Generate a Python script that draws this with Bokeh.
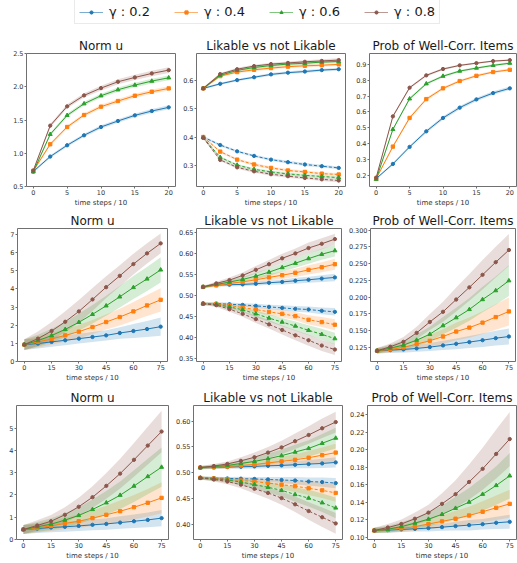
from bokeh.plotting import figure
from bokeh.models import Range1d, FixedTicker, PrintfTickFormatter, Legend, LegendItem
from bokeh.layouts import column, row
from bokeh.embed import file_html
from bokeh.resources import INLINE

# ---------------- data ----------------
GAMMAS = ["0.2", "0.4", "0.6", "0.8"]
COLORS = ["#1f77b4", "#ff7f0e", "#2ca02c", "#8c564b"]
MARKERS = ["circle", "square", "triangle", "circle"]

steps_r1 = [0, 2.5, 5, 7.5, 10, 12.5, 15, 17.5, 20]
steps_r23 = [0, 7.5, 15, 22.5, 30, 37.5, 45, 52.5, 60, 67.5, 75]

TITLES = ["Norm u", "Likable vs not Likable", "Prob of Well-Corr. Items"]
XLABEL = "time steps / 10"

# row 1
r1_norm = [
    [0.725, 0.95, 1.12, 1.27, 1.395, 1.485, 1.57, 1.635, 1.69],
    [0.735, 1.135, 1.395, 1.575, 1.70, 1.785, 1.865, 1.925, 1.975],
    [0.72, 1.285, 1.57, 1.745, 1.865, 1.955, 2.025, 2.085, 2.135],
    [0.74, 1.415, 1.705, 1.87, 1.98, 2.075, 2.14, 2.2, 2.25],
]
r1_norm_sd = [
    [0.02, 0.02, 0.022, 0.024, 0.026, 0.027, 0.028, 0.029, 0.03],
    [0.02, 0.022, 0.024, 0.026, 0.028, 0.03, 0.031, 0.032, 0.033],
    [0.02, 0.024, 0.026, 0.028, 0.03, 0.032, 0.034, 0.035, 0.036],
    [0.02, 0.026, 0.03, 0.032, 0.035, 0.037, 0.04, 0.042, 0.045],
]
r1_like_hi = [
    [0.571, 0.587, 0.600, 0.610, 0.620, 0.626, 0.630, 0.635, 0.638],
    [0.571, 0.614, 0.628, 0.636, 0.642, 0.647, 0.650, 0.652, 0.655],
    [0.571, 0.617, 0.634, 0.644, 0.651, 0.656, 0.659, 0.663, 0.665],
    [0.571, 0.621, 0.638, 0.649, 0.656, 0.660, 0.664, 0.667, 0.670],
]
r1_like_lo = [
    [0.401, 0.373, 0.351, 0.335, 0.322, 0.313, 0.305, 0.299, 0.293],
    [0.401, 0.350, 0.322, 0.305, 0.293, 0.284, 0.279, 0.273, 0.270],
    [0.399, 0.330, 0.303, 0.288, 0.279, 0.272, 0.267, 0.263, 0.259],
    [0.398, 0.321, 0.295, 0.281, 0.271, 0.264, 0.258, 0.253, 0.249],
]
r1_like_sd = [
    [0.004, 0.004, 0.004, 0.004, 0.005, 0.005, 0.005, 0.005, 0.005],
    [0.004, 0.004, 0.004, 0.005, 0.005, 0.005, 0.005, 0.005, 0.005],
    [0.004, 0.004, 0.004, 0.005, 0.005, 0.005, 0.005, 0.005, 0.005],
    [0.004, 0.004, 0.005, 0.005, 0.005, 0.005, 0.005, 0.006, 0.006],
]
r1_prob = [
    [0.179, 0.2715, 0.379, 0.4775, 0.562, 0.627, 0.679, 0.719, 0.749],
    [0.179, 0.381, 0.562, 0.681, 0.749, 0.795, 0.828, 0.852, 0.866],
    [0.175, 0.490, 0.683, 0.778, 0.826, 0.858, 0.877, 0.894, 0.908],
    [0.185, 0.572, 0.753, 0.831, 0.871, 0.894, 0.908, 0.921, 0.927],
]
r1_prob_sd = [
    [0.006, 0.008, 0.009, 0.010, 0.011, 0.011, 0.011, 0.011, 0.011],
    [0.006, 0.009, 0.010, 0.010, 0.009, 0.009, 0.008, 0.008, 0.008],
    [0.006, 0.009, 0.009, 0.008, 0.008, 0.007, 0.007, 0.007, 0.007],
    [0.006, 0.009, 0.008, 0.007, 0.007, 0.006, 0.006, 0.006, 0.006],
]

# row 2
r2_norm = [
    [0.93, 0.99, 1.08, 1.17, 1.26, 1.35, 1.44, 1.57, 1.68, 1.79, 1.92],
    [0.93, 1.08, 1.24, 1.44, 1.645, 1.90, 2.175, 2.45, 2.76, 3.09, 3.40],
    [0.93, 1.15, 1.43, 1.77, 2.16, 2.60, 3.07, 3.565, 4.08, 4.55, 5.05],
    [0.93, 1.26, 1.68, 2.19, 2.76, 3.42, 4.095, 4.72, 5.37, 5.96, 6.51],
]
r2_norm_sd = [
    [0.30, 0.28, 0.27, 0.27, 0.27, 0.27, 0.28, 0.32, 0.38, 0.44, 0.50],
    [0.30, 0.31, 0.32, 0.34, 0.37, 0.39, 0.41, 0.46, 0.52, 0.58, 0.64],
    [0.30, 0.33, 0.37, 0.42, 0.47, 0.51, 0.55, 0.59, 0.63, 0.66, 0.69],
    [0.30, 0.40, 0.50, 0.58, 0.63, 0.63, 0.60, 0.58, 0.57, 0.56, 0.55],
]
r2_like_hi = [
    [0.520, 0.5245, 0.5253, 0.526, 0.5276, 0.530, 0.532, 0.5348, 0.5371, 0.540, 0.5427],
    [0.520, 0.5237, 0.5285, 0.532, 0.537, 0.5427, 0.548, 0.5537, 0.5608, 0.567, 0.5742],
    [0.520, 0.526, 0.5316, 0.538, 0.5458, 0.5553, 0.5663, 0.5766, 0.5876, 0.598, 0.6066],
    [0.520, 0.5285, 0.5363, 0.5474, 0.5608, 0.5742, 0.5884, 0.600, 0.6129, 0.623, 0.6342],
]
r2_like_lo = [
    [0.480, 0.4803, 0.4787, 0.4771, 0.4748, 0.4724, 0.470, 0.4677, 0.4661, 0.463, 0.4606],
    [0.480, 0.4795, 0.4756, 0.4708, 0.4661, 0.4606, 0.4558, 0.4503, 0.4416, 0.4361, 0.4298],
    [0.480, 0.478, 0.4724, 0.4653, 0.4558, 0.4456, 0.4361, 0.4266, 0.4164, 0.4069, 0.3966],
    [0.480, 0.4764, 0.4669, 0.4558, 0.4432, 0.4306, 0.4172, 0.4045, 0.3927, 0.3801, 0.3706],
]
r2_like_sd = [
    [0.003, 0.003, 0.004, 0.004, 0.005, 0.005, 0.006, 0.007, 0.007, 0.008, 0.009],
    [0.003, 0.004, 0.005, 0.006, 0.007, 0.008, 0.009, 0.010, 0.011, 0.012, 0.013],
    [0.003, 0.004, 0.005, 0.006, 0.008, 0.009, 0.010, 0.011, 0.012, 0.013, 0.014],
    [0.003, 0.004, 0.006, 0.007, 0.009, 0.010, 0.011, 0.012, 0.013, 0.013, 0.013],
]
r2_prob = [
    [0.120, 0.121, 0.122, 0.1235, 0.1255, 0.128, 0.1304, 0.133, 0.1358, 0.1388, 0.1413],
    [0.120, 0.122, 0.125, 0.130, 0.1349, 0.1413, 0.1487, 0.1546, 0.162, 0.1703, 0.1787],
    [0.120, 0.124, 0.1285, 0.1358, 0.1447, 0.1575, 0.1694, 0.1817, 0.1965, 0.2098, 0.2246],
    [0.120, 0.126, 0.1334, 0.1467, 0.163, 0.1782, 0.1965, 0.2147, 0.2334, 0.2522, 0.2704],
]
r2_prob_sd = [
    [0.004, 0.004, 0.005, 0.005, 0.006, 0.007, 0.008, 0.009, 0.010, 0.011, 0.012],
    [0.004, 0.005, 0.006, 0.007, 0.009, 0.011, 0.013, 0.015, 0.017, 0.019, 0.021],
    [0.004, 0.005, 0.007, 0.009, 0.011, 0.013, 0.015, 0.017, 0.019, 0.021, 0.023],
    [0.004, 0.005, 0.007, 0.009, 0.012, 0.015, 0.018, 0.020, 0.022, 0.023, 0.024],
]

# row 3
r3_norm = [
    [0.45, 0.49, 0.54, 0.57, 0.61, 0.66, 0.70, 0.76, 0.82, 0.88, 0.96],
    [0.45, 0.52, 0.61, 0.72, 0.82, 0.96, 1.11, 1.27, 1.45, 1.65, 1.87],
    [0.45, 0.57, 0.69, 0.87, 1.08, 1.35, 1.65, 1.99, 2.40, 2.83, 3.25],
    [0.45, 0.63, 0.82, 1.11, 1.47, 1.90, 2.41, 2.96, 3.58, 4.22, 4.85],
]
r3_norm_sd = [
    [0.20, 0.20, 0.21, 0.22, 0.23, 0.24, 0.26, 0.28, 0.30, 0.33, 0.37],
    [0.20, 0.21, 0.23, 0.26, 0.30, 0.35, 0.41, 0.48, 0.55, 0.62, 0.70],
    [0.20, 0.22, 0.26, 0.31, 0.37, 0.45, 0.53, 0.62, 0.71, 0.80, 0.88],
    [0.20, 0.23, 0.28, 0.34, 0.41, 0.49, 0.58, 0.67, 0.76, 0.85, 0.93],
]
r3_like_hi = [
    [0.510, 0.5103, 0.511, 0.5116, 0.5123, 0.5135, 0.5142, 0.5155, 0.5168, 0.518, 0.520],
    [0.510, 0.5105, 0.512, 0.514, 0.516, 0.519, 0.522, 0.525, 0.529, 0.534, 0.539],
    [0.510, 0.512, 0.514, 0.518, 0.522, 0.527, 0.533, 0.540, 0.547, 0.557, 0.567],
    [0.510, 0.513, 0.517, 0.523, 0.530, 0.539, 0.549, 0.561, 0.573, 0.586, 0.598],
]
r3_like_lo = [
    [0.490, 0.4895, 0.489, 0.4885, 0.488, 0.487, 0.486, 0.485, 0.483, 0.482, 0.480],
    [0.490, 0.489, 0.4875, 0.485, 0.483, 0.480, 0.477, 0.474, 0.470, 0.466, 0.461],
    [0.490, 0.488, 0.486, 0.482, 0.477, 0.472, 0.466, 0.458, 0.451, 0.442, 0.432],
    [0.490, 0.487, 0.483, 0.477, 0.469, 0.461, 0.451, 0.439, 0.426, 0.414, 0.402],
]
r3_like_sd = [
    [0.003, 0.003, 0.003, 0.004, 0.004, 0.005, 0.006, 0.007, 0.008, 0.009, 0.010],
    [0.003, 0.003, 0.004, 0.005, 0.006, 0.007, 0.009, 0.011, 0.013, 0.015, 0.017],
    [0.003, 0.004, 0.005, 0.006, 0.008, 0.010, 0.012, 0.014, 0.016, 0.018, 0.020],
    [0.003, 0.004, 0.005, 0.007, 0.009, 0.011, 0.013, 0.015, 0.017, 0.019, 0.020],
]
r3_prob = [
    [0.1076, 0.108, 0.1088, 0.1095, 0.1103, 0.1114, 0.1126, 0.1137, 0.1148, 0.1164, 0.1175],
    [0.1076, 0.1084, 0.110, 0.112, 0.115, 0.118, 0.121, 0.1247, 0.129, 0.1335, 0.138],
    [0.1076, 0.109, 0.112, 0.116, 0.1205, 0.126, 0.133, 0.140, 0.149, 0.159, 0.170],
    [0.1076, 0.111, 0.115, 0.121, 0.128, 0.138, 0.149, 0.163, 0.178, 0.195, 0.212],
]
r3_prob_sd = [
    [0.003, 0.003, 0.003, 0.003, 0.004, 0.004, 0.005, 0.006, 0.006, 0.007, 0.008],
    [0.003, 0.003, 0.004, 0.005, 0.006, 0.007, 0.009, 0.010, 0.012, 0.014, 0.016],
    [0.003, 0.004, 0.005, 0.006, 0.008, 0.010, 0.013, 0.016, 0.019, 0.022, 0.026],
    [0.003, 0.004, 0.005, 0.007, 0.009, 0.012, 0.016, 0.020, 0.024, 0.028, 0.031],
]

# axes: ticks and ranges
xticks_r1 = [0, 5, 10, 15, 20]
xticks_r23 = [0, 15, 30, 45, 60, 75]
xrange_r1 = (-1, 21)
xrange_r23 = (-3.75, 78.75)

yticks = {
    "r1_norm": [0.5, 1.0, 1.5, 2.0, 2.5],
    "r1_like": [0.3, 0.4, 0.5, 0.6],
    "r1_prob": [0.2, 0.3, 0.4, 0.5, 0.6, 0.7, 0.8, 0.9],
    "r2_norm": [0, 1, 2, 3, 4, 5, 6, 7],
    "r2_like": [0.35, 0.40, 0.45, 0.50, 0.55, 0.60, 0.65],
    "r2_prob": [0.125, 0.150, 0.175, 0.200, 0.225, 0.250, 0.275, 0.300],
    "r3_norm": [0, 1, 2, 3, 4, 5],
    "r3_like": [0.40, 0.45, 0.50, 0.55, 0.60],
    "r3_prob": [0.10, 0.12, 0.14, 0.16, 0.18, 0.20, 0.22, 0.24],
}
yfmt = {
    "r1_norm": "%.1f", "r1_like": "%.1f", "r1_prob": "%.1f",
    "r2_norm": "%d", "r2_like": "%.2f", "r2_prob": "%.3f",
    "r3_norm": "%d", "r3_like": "%.2f", "r3_prob": "%.2f",
}
yranges = {
    "r1_norm": (0.5, 2.5), "r1_like": (0.228, 0.693), "r1_prob": (0.129, 0.969),
    "r2_norm": (0.0, 7.33), "r2_like": (0.342, 0.6595), "r2_prob": (0.104, 0.3025),
    "r3_norm": (0.0, 6.02), "r3_like": (0.371, 0.630), "r3_prob": (0.0973, 0.2503),
}

# ---------------- layout (pixels) ----------------
FONT = "DejaVu Sans"
ROWS = [
    dict(widths=[180, 170, 167], left=[26, 15, 19], right=[5, 5, 1], top=25, bottom=22, height=181),
    dict(widths=[172, 173, 172], left=[17, 24, 24], right=[5, 4, 2], top=19, bottom=22, height=175),
    dict(widths=[172, 174, 171], left=[16, 21, 21], right=[4, 4, 1], top=21, bottom=23, height=178),
]


def make_fig(key, title, xr, xt, r, c):
    spec = ROWS[r]
    p = figure(width=spec["widths"][c], height=spec["height"],
               x_range=Range1d(*xr), y_range=Range1d(*yranges[key]),
               min_border_left=spec["left"][c], min_border_right=spec["right"][c],
               min_border_top=spec["top"], min_border_bottom=spec["bottom"],
               output_backend="svg", toolbar_location=None, tools="",
               title=title)
    p.title.align = "center"
    p.title.text_font = FONT
    p.title.text_font_size = "12px"
    p.title.text_font_style = "normal"
    p.title.text_color = "#1a1a1a"
    p.title.standoff = 1
    p.title.offset = 0
    p.xgrid.visible = False
    p.ygrid.visible = False
    p.outline_line_color = "#707070"
    p.outline_line_width = 1
    p.outline_line_alpha = 1
    p.background_fill_color = "white"
    p.border_fill_color = "white"
    for ax in (p.xaxis[0], p.yaxis[0]):
        ax.axis_line_color = None
        ax.major_tick_out = 2
        ax.major_tick_in = 0
        ax.minor_tick_out = 0
        ax.minor_tick_in = 0
        ax.major_tick_line_color = "#707070"
        ax.major_label_text_font = FONT
        ax.major_label_text_font_size = "6.5px"
        ax.major_label_text_color = "#333333"
        ax.major_label_standoff = 1
    p.xaxis.ticker = FixedTicker(ticks=xt)
    p.xaxis.formatter = PrintfTickFormatter(format="%d")
    p.xaxis.axis_label = XLABEL
    p.xaxis.axis_label_text_font = FONT
    p.xaxis.axis_label_text_font_size = "7px"
    p.xaxis.axis_label_text_font_style = "normal"
    p.xaxis.axis_label_text_color = "#333333"
    p.xaxis.axis_label_standoff = 1
    p.yaxis.ticker = FixedTicker(ticks=yticks[key])
    p.yaxis.formatter = PrintfTickFormatter(format=yfmt[key])
    return p


def draw(p, xs, vals, sds, dashed=False):
    for i in range(4):
        lo = [v - s for v, s in zip(vals[i], sds[i])]
        hi = [v + s for v, s in zip(vals[i], sds[i])]
        p.varea(x=xs, y1=lo, y2=hi, fill_color=COLORS[i], fill_alpha=0.2)
    for i in range(4):
        p.line(xs, vals[i], line_color=COLORS[i], line_width=1,
               line_dash="3 2" if dashed else "solid")
        p.scatter(xs, vals[i], marker=MARKERS[i], size=3.3 if MARKERS[i] != "triangle" else 4.0,
                  fill_color=COLORS[i], line_color=COLORS[i])


panels = [
    [("r1_norm", [(r1_norm, r1_norm_sd, False)]),
     ("r1_like", [(r1_like_hi, r1_like_sd, False), (r1_like_lo, r1_like_sd, True)]),
     ("r1_prob", [(r1_prob, r1_prob_sd, False)])],
    [("r2_norm", [(r2_norm, r2_norm_sd, False)]),
     ("r2_like", [(r2_like_hi, r2_like_sd, False), (r2_like_lo, r2_like_sd, True)]),
     ("r2_prob", [(r2_prob, r2_prob_sd, False)])],
    [("r3_norm", [(r3_norm, r3_norm_sd, False)]),
     ("r3_like", [(r3_like_hi, r3_like_sd, False), (r3_like_lo, r3_like_sd, True)]),
     ("r3_prob", [(r3_prob, r3_prob_sd, False)])],
]

rows = []
for r, prow in enumerate(panels):
    xs = steps_r1 if r == 0 else steps_r23
    xr = xrange_r1 if r == 0 else xrange_r23
    xt = xticks_r1 if r == 0 else xticks_r23
    figs = []
    for c, (key, series) in enumerate(prow):
        p = make_fig(key, TITLES[c], xr, xt, r, c)
        for vals, sds, dashed in series:
            draw(p, xs, vals, sds, dashed)
        figs.append(p)
    rows.append(row(*figs))

# ---------------- legend strip ----------------
# proxy renderers (their data lies outside this strip's ranges; only the legend shows)
lp = figure(width=517, height=28, x_range=Range1d(1000, 1001), y_range=Range1d(1000, 1001),
            min_border=0, output_backend="svg", toolbar_location=None, tools="",
            x_axis_location=None, y_axis_location=None)
lp.outline_line_color = None
lp.xgrid.visible = False
lp.ygrid.visible = False
items = []
for i, g in enumerate(GAMMAS):
    rl = lp.line(x=steps_r1, y=r1_norm[i], line_color=COLORS[i], line_width=1, line_alpha=0.6)
    rs = lp.scatter(x=steps_r1, y=r1_norm[i], marker=MARKERS[i], size=3.5,
                    fill_color=COLORS[i], line_color=COLORS[i])
    items.append(LegendItem(label="γ : " + g, renderers=[rl, rs]))
legend = Legend(items=items, orientation="horizontal", location=(74, 4),
                label_text_font=FONT, label_text_font_size="13px", label_text_color="#1a1a1a",
                glyph_width=24, glyph_height=8, label_height=13, label_standoff=6,
                spacing=24, padding=4, margin=0,
                border_line_color="#d6d6d6", border_line_width=1,
                background_fill_color="white", background_fill_alpha=1)
lp.add_layout(legend)

layout = column(lp, *rows)

open("out.html", "w").write(file_html(layout, INLINE))
